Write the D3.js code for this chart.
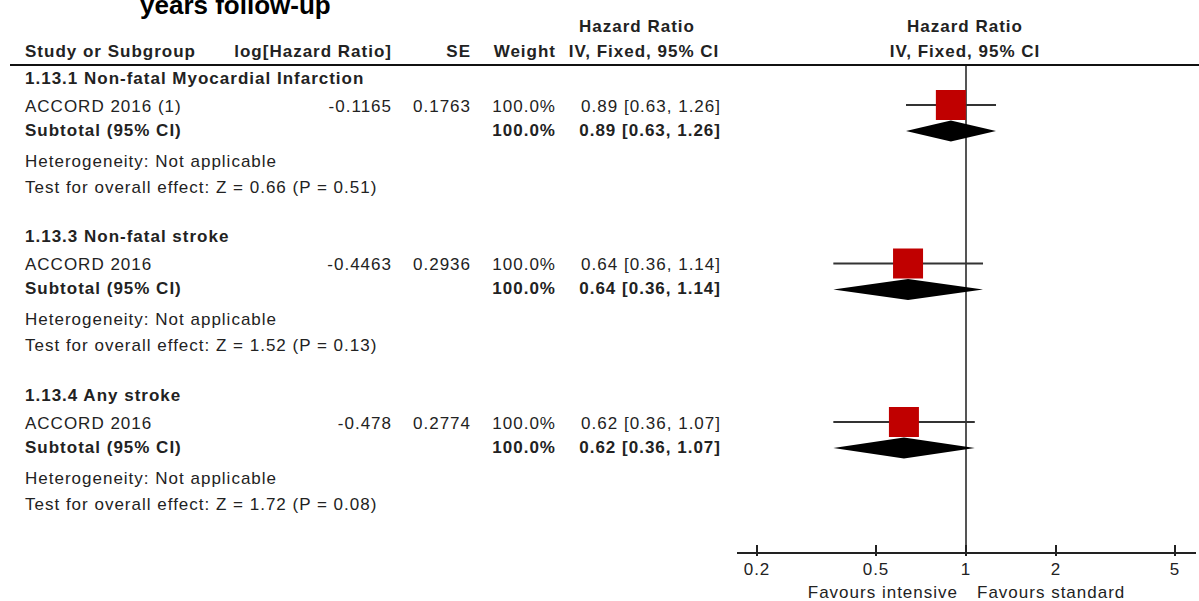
<!DOCTYPE html>
<html>
<head>
<meta charset="utf-8">
<script src="https://cdn.jsdelivr.net/npm/d3@7"></script>
<style>
  body { margin: 0; background: #fff; }
  svg { display: block; font-family: 'Liberation Sans', Arial, sans-serif; }
  .lbl { letter-spacing: 1px; }
</style>
</head>
<body>
<svg id="forest" width="1199" height="601"></svg>
<script>
// data
const groupNames = ['1.13.1 Non-fatal Myocardial Infarction', '1.13.3 Non-fatal stroke', '1.13.4 Any stroke'];
const studyNames = ['ACCORD 2016 (1)', 'ACCORD 2016', 'ACCORD 2016'];
const logHR = ['-0.1165', '-0.4463', '-0.478'];
const seValues = ['0.1763', '0.2936', '0.2774'];
const weights = [100, 100, 100];
const hrValues = [0.89, 0.64, 0.62];
const ciLow = [0.63, 0.36, 0.36];
const ciHigh = [1.26, 1.14, 1.07];
const zValues = ['0.66', '1.52', '1.72'];
const pValues = ['0.51', '0.13', '0.08'];
const axisTicks = [0.2, 0.5, 1, 2, 5];

const svg = d3.select('#forest');
const textColor = '#222';

// log scale for the plot part
const x = d3.scaleLog().domain([0.2, 5]).range([757, 1175]);

// each subgroup block is a fixed height, rows are offsets inside
const groupY = d3.scaleLinear().domain([0, 1]).range([78, 236.5]);
const rowOff = { head: 0, study: 28, sub: 52, het: 83, test: 109 };

// title (cut at top in the original)
svg.append('text')
    .attr('x', 140).attr('y', 14)
    .attr('font-size', 26).attr('font-weight', 'bold')
    .attr('fill', '#000')
    .text('years follow-up');

// column headers
const headBold = (txt, xx, yy, anchor) => svg.append('text')
    .attr('class', 'lbl')
    .attr('x', xx).attr('y', yy).attr('dy', '0.35em')
    .attr('text-anchor', anchor)
    .attr('font-size', 17).attr('font-weight', 'bold')
    .attr('fill', textColor)
    .text(txt);

headBold('Study or Subgroup', 25, 51, 'start');
headBold('log[Hazard Ratio]', 392, 51, 'end');
headBold('SE', 471, 51, 'end');
headBold('Weight', 556, 51, 'end');
headBold('Hazard Ratio', 637, 26, 'middle');
headBold('IV, Fixed, 95% CI', 644, 51, 'middle');
headBold('Hazard Ratio', 965, 26, 'middle');
headBold('IV, Fixed, 95% CI', 965, 51, 'middle');

svg.append('line')
    .attr('x1', 10).attr('x2', 1199)
    .attr('y1', 65).attr('y2', 65)
    .attr('stroke', '#111').attr('stroke-width', 2);

// line of no effect
svg.append('line')
    .attr('x1', x(1)).attr('x2', x(1))
    .attr('y1', 66).attr('y2', 556)
    .attr('stroke', '#555').attr('stroke-width', 2);

const groups = svg.selectAll('.group')
    .data(groupNames.map((name, i) => ({
        name, i,
        study: studyNames[i], logHR: logHR[i], se: seValues[i], w: weights[i],
        hr: hrValues[i], lo: ciLow[i], hi: ciHigh[i], z: zValues[i], p: pValues[i]
    })))
    .join('g')
    .attr('class', 'group')
    .attr('transform', d => `translate(0, ${groupY(d.i)})`);

const addText = (sel, yy, xx, anchor, bold, fn) => sel.append('text')
    .attr('class', 'lbl')
    .attr('x', xx).attr('y', yy).attr('dy', '0.35em')
    .attr('text-anchor', anchor)
    .attr('font-size', 17)
    .attr('font-weight', bold ? 'bold' : 'normal')
    .attr('fill', textColor)
    .text(fn);

const ciText = d => `${d.hr.toFixed(2)} [${d.lo.toFixed(2)}, ${d.hi.toFixed(2)}]`;

addText(groups, rowOff.head, 25, 'start', true, d => d.name);
addText(groups, rowOff.study, 25, 'start', false, d => d.study);
addText(groups, rowOff.study, 392, 'end', false, d => d.logHR);
addText(groups, rowOff.study, 471, 'end', false, d => d.se);
addText(groups, rowOff.study, 556, 'end', false, d => d.w.toFixed(1) + '%');
addText(groups, rowOff.study, 721, 'end', false, ciText);
addText(groups, rowOff.sub, 25, 'start', true, () => 'Subtotal (95% CI)');
addText(groups, rowOff.sub, 556, 'end', true, d => d.w.toFixed(1) + '%');
addText(groups, rowOff.sub, 721, 'end', true, ciText);
addText(groups, rowOff.het, 25, 'start', false, () => 'Heterogeneity: Not applicable');
addText(groups, rowOff.test, 25, 'start', false, d => `Test for overall effect: Z = ${d.z} (P = ${d.p})`);

// CI whisker + square
groups.append('line')
    .attr('x1', d => x(d.lo)).attr('x2', d => x(d.hi))
    .attr('y1', rowOff.study - 1).attr('y2', rowOff.study - 1)
    .attr('stroke', '#333').attr('stroke-width', 2);

const boxSize = d => 30 * Math.sqrt(d.w / 100);
groups.append('rect')
    .attr('x', d => x(d.hr) - boxSize(d) / 2)
    .attr('y', d => rowOff.study - 1 - boxSize(d) / 2)
    .attr('width', boxSize).attr('height', boxSize)
    .attr('fill', '#c00000');

// pooled diamond
groups.append('path')
    .attr('d', d => {
        const cy = rowOff.sub + 1, h = 10.5;
        return `M${x(d.lo)},${cy} L${x(d.hr)},${cy - h} L${x(d.hi)},${cy} L${x(d.hr)},${cy + h} Z`;
    })
    .attr('fill', '#000');

// bottom axis
const axisG = svg.append('g')
    .attr('transform', 'translate(0, 553)');

axisG.append('line')
    .attr('x1', 737).attr('x2', 1196)
    .attr('stroke', '#222').attr('stroke-width', 2);

axisG.selectAll('.tick')
    .data(axisTicks)
    .join('g')
    .attr('class', 'tick')
    .attr('transform', d => `translate(${x(d)}, 0)`)
    .call(g => g.append('line')
        .attr('y1', -8).attr('y2', 3)
        .attr('stroke', '#222').attr('stroke-width', 2))
    .call(g => g.append('text')
        .attr('class', 'lbl')
        .attr('y', 16).attr('dy', '0.35em')
        .attr('text-anchor', 'middle')
        .attr('font-size', 17)
        .attr('fill', textColor)
        .text(d => d));

svg.append('text')
    .attr('class', 'lbl')
    .attr('x', 958).attr('y', 592).attr('dy', '0.35em')
    .attr('text-anchor', 'end').attr('font-size', 17)
    .attr('fill', textColor)
    .text('Favours intensive');

svg.append('text')
    .attr('class', 'lbl')
    .attr('x', 977).attr('y', 592).attr('dy', '0.35em')
    .attr('text-anchor', 'start').attr('font-size', 17)
    .attr('fill', textColor)
    .text('Favours standard');
</script>
</body>
</html>
